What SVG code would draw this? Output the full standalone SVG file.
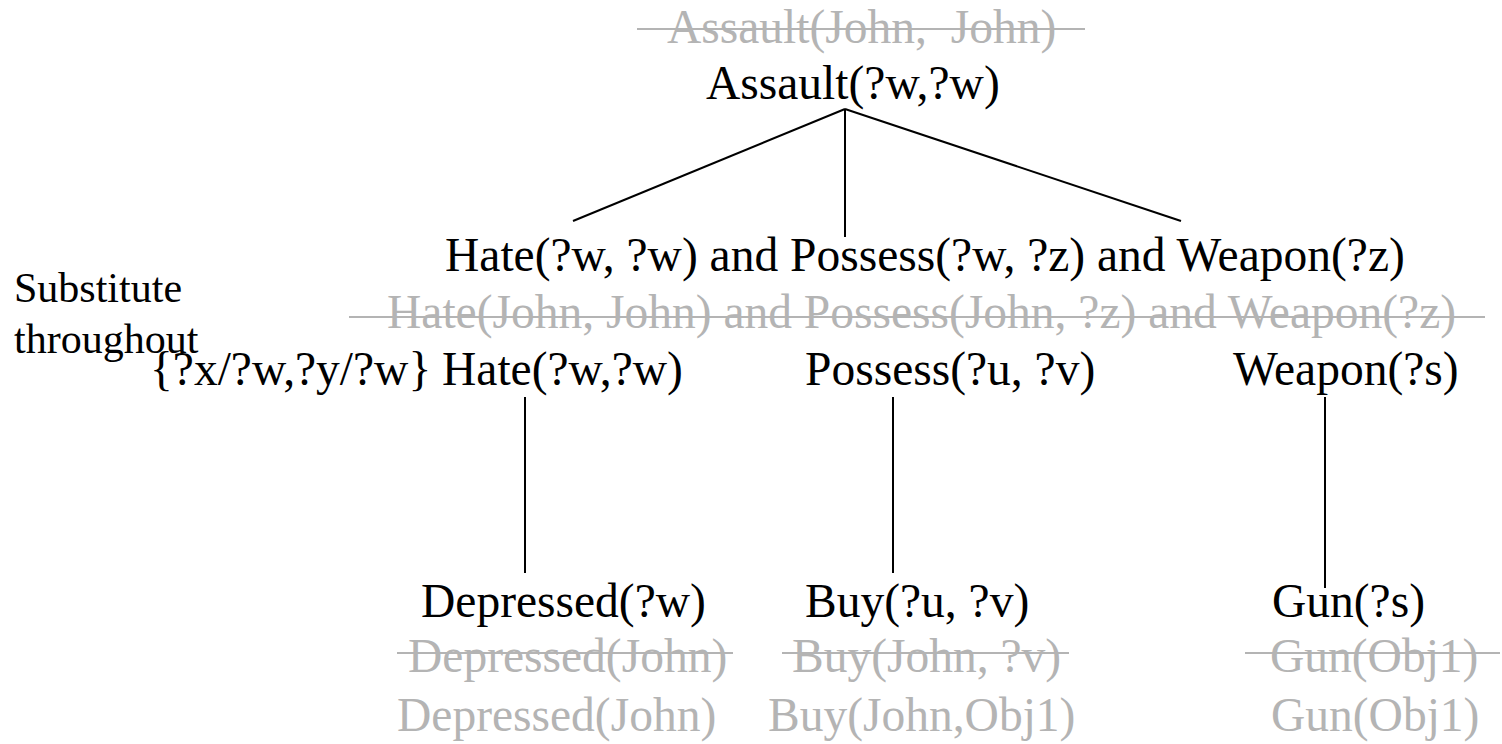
<svg xmlns="http://www.w3.org/2000/svg" width="1502" height="744" viewBox="0 0 1502 744">
<style>
text{font-family:"Liberation Serif","Times New Roman",serif;font-size:47.5px;fill:#000;white-space:pre}
.g{fill:#b4b4b4}
.s{font-size:42px}
.st{stroke:#b4b4b4;stroke-width:2}
.c{stroke:#000;stroke-width:2;fill:none}
</style>
<rect width="1502" height="744" fill="#fff"/>
<g id="connectors">
<line class="c" x1="845" y1="109" x2="573" y2="221"/>
<line class="c" x1="845" y1="109" x2="845" y2="237"/>
<line class="c" x1="845" y1="109" x2="1181" y2="221"/>
<line class="c" x1="525" y1="397" x2="525" y2="573"/>
<line class="c" x1="893" y1="397" x2="893" y2="573"/>
<line class="c" x1="1325" y1="397" x2="1325" y2="588"/>
</g>
<g id="root">
<text class="g" x="667" y="43">Assault(John,  John)</text>
<line class="st" x1="637" y1="29" x2="1085" y2="29"/>
<text x="706" y="99">Assault(?w,?w)</text>
</g>
<g id="conjunction">
<text x="445" y="271">Hate(?w, ?w) and Possess(?w, ?z) and Weapon(?z)</text>
<text class="g" x="387" y="328">Hate(John, John) and Possess(John, ?z) and Weapon(?z)</text>
<line class="st" x1="349" y1="317" x2="1485" y2="317"/>
</g>
<g id="note">
<text class="s" x="14" y="302">Substitute</text>
<text class="s" x="14" y="353">throughout</text>
<text x="150" y="385">{?x/?w,?y/?w}</text>
</g>
<g id="hate"><text x="442" y="385">Hate(?w,?w)</text></g>
<g id="possess"><text x="805" y="385">Possess(?u, ?v)</text></g>
<g id="weapon"><text x="1233" y="385">Weapon(?s)</text></g>
<g id="depressed">
<text x="421" y="617">Depressed(?w)</text>
<text class="g" x="408" y="672">Depressed(John)</text>
<line class="st" x1="397" y1="653" x2="733" y2="653"/>
<text class="g" x="397" y="731">Depressed(John)</text>
</g>
<g id="buy">
<text x="805" y="617">Buy(?u, ?v)</text>
<text class="g" x="792" y="672">Buy(John, ?v)</text>
<line class="st" x1="782" y1="653" x2="1069" y2="653"/>
<text class="g" x="768" y="731">Buy(John,Obj1)</text>
</g>
<g id="gun">
<text x="1272" y="617">Gun(?s)</text>
<text class="g" x="1270" y="672">Gun(Obj1)</text>
<line class="st" x1="1245" y1="653" x2="1500" y2="653"/>
<text class="g" x="1271" y="731">Gun(Obj1)</text>
</g>
</svg>
